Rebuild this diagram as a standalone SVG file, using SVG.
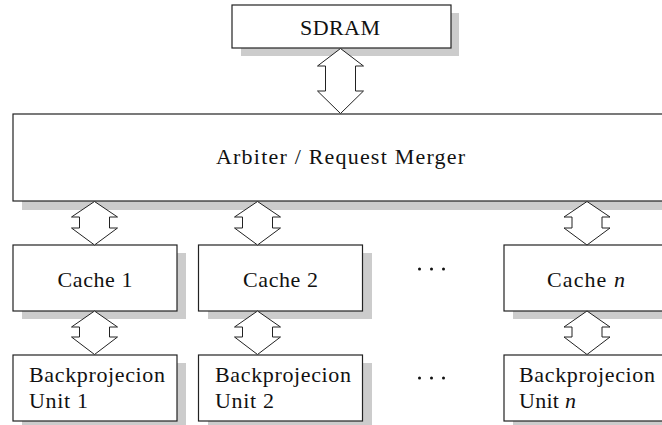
<svg xmlns="http://www.w3.org/2000/svg" width="662" height="425" viewBox="0 0 662 425">
<style>
.box{fill:#ffffff;stroke:#222222;stroke-width:1.2}
.sh{fill:#cccccc}
.arr{fill:#ffffff;stroke:#222222;stroke-width:1}
.dot{fill:#111111}
</style>
<rect width="662" height="425" fill="#ffffff"/>
<g font-family="'Liberation Serif', 'Times New Roman', serif" font-size="22" fill="#111111">
<g id="sdram">
<rect class="sh" x="241" y="13" width="218" height="43"/>
<rect class="box" x="232" y="5" width="219" height="43"/>
<text x="340" y="35" text-anchor="middle" textLength="80" lengthAdjust="spacing">SDRAM</text>
</g>
<g id="arbiter">
<rect class="sh" x="22" y="122" width="650" height="88"/>
<rect class="box" x="13" y="114" width="660" height="87"/>
<text x="340.5" y="164" text-anchor="middle" textLength="249" lengthAdjust="spacing">Arbiter / Request Merger</text>
</g>
<g id="cache1">
<rect class="sh" x="22" y="253" width="164" height="66"/>
<rect class="box" x="13" y="245" width="164" height="66"/>
<text x="95" y="287" text-anchor="middle" textLength="75" lengthAdjust="spacing">Cache 1</text>
</g>
<g id="cache2">
<rect class="sh" x="208" y="253" width="164" height="66"/>
<rect class="box" x="198.5" y="245" width="164" height="66"/>
<text x="280.5" y="287" text-anchor="middle" textLength="75" lengthAdjust="spacing">Cache 2</text>
</g>
<g id="cachen">
<rect class="sh" x="513" y="253" width="164" height="66"/>
<rect class="box" x="504" y="245" width="164" height="66"/>
<text x="586" y="287" text-anchor="middle" textLength="78" lengthAdjust="spacing">Cache <tspan font-style="italic">n</tspan></text>
</g>
<g id="bp1">
<rect class="sh" x="22" y="363" width="164" height="66"/>
<rect class="box" x="13" y="355" width="164" height="66"/>
<text x="29" y="382" textLength="136" lengthAdjust="spacing">Backprojecion</text>
<text x="29" y="408" textLength="59" lengthAdjust="spacing">Unit 1</text>
</g>
<g id="bp2">
<rect class="sh" x="208" y="363" width="164" height="66"/>
<rect class="box" x="198.5" y="355" width="164" height="66"/>
<text x="215" y="382" textLength="136" lengthAdjust="spacing">Backprojecion</text>
<text x="215" y="408" textLength="59" lengthAdjust="spacing">Unit 2</text>
</g>
<g id="bpn">
<rect class="sh" x="513" y="363" width="164" height="66"/>
<rect class="box" x="504" y="355" width="164" height="66"/>
<text x="519" y="382" textLength="136" lengthAdjust="spacing">Backprojecion</text>
<text x="519" y="408" textLength="57" lengthAdjust="spacing">Unit <tspan font-style="italic">n</tspan></text>
</g>
</g>
<g id="dots">
<circle class="dot" cx="419.5" cy="269" r="1.5"/>
<circle class="dot" cx="431.5" cy="269" r="1.5"/>
<circle class="dot" cx="443.5" cy="269" r="1.5"/>
<circle class="dot" cx="419.5" cy="378" r="1.5"/>
<circle class="dot" cx="431.5" cy="378" r="1.5"/>
<circle class="dot" cx="443.5" cy="378" r="1.5"/>
</g>
<g id="connectors">
<polygon class="arr" points="340.5,48.5 363.5,66 355.5,66 355.5,91 363.5,91 340.5,113.5 317.5,91 325.5,91 325.5,66 317.5,66"/>
<polygon class="arr" points="94.5,201.5 117.5,217 109.5,217 109.5,228 117.5,228 94.5,245 71.5,228 79.5,228 79.5,217 71.5,217"/>
<polygon class="arr" points="257.5,201.5 280.5,217 272.5,217 272.5,228 280.5,228 257.5,245 234.5,228 242.5,228 242.5,217 234.5,217"/>
<polygon class="arr" points="587,201.5 610,217 602,217 602,228 610,228 587,245 564,228 572,228 572,217 564,217"/>
<polygon class="arr" points="94.5,311 117.5,327 109.5,327 109.5,337 117.5,337 94.5,354.5 71.5,337 79.5,337 79.5,327 71.5,327"/>
<polygon class="arr" points="257.5,311 280.5,327 272.5,327 272.5,337 280.5,337 257.5,354.5 234.5,337 242.5,337 242.5,327 234.5,327"/>
<polygon class="arr" points="587,311 610,327 602,327 602,337 610,337 587,354.5 564,337 572,337 572,327 564,327"/>
</g>
</svg>
